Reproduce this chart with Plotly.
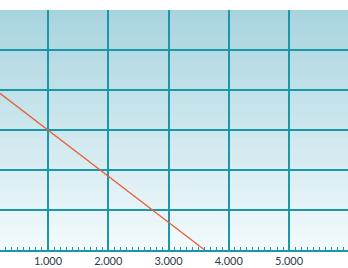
import plotly.graph_objects as go

# Data
line_x = [0, 3600]
line_y = [4.15, 0]
x_tickvals = [1000, 2000, 3000, 4000, 5000]

fig = go.Figure()

# gradient background via thin strips (paper coords)
n = 60
top = (168, 212, 223)
bot = (243, 250, 252)
shapes = []
for i in range(n):
    t = i / (n - 1)
    c = tuple(round(top[k] + (bot[k] - top[k]) * t) for k in range(3))
    shapes.append(dict(type="rect", xref="x domain", yref="y domain",
                       x0=0, x1=1, y0=1 - (i + 1) / n, y1=1 - i / n,
                       fillcolor="rgb(%d,%d,%d)" % c, line=dict(width=0),
                       layer="below"))

fig.add_trace(go.Scatter(x=line_x, y=line_y, mode="lines",
                         line=dict(color="#e8603a", width=1.3),
                         hoverinfo="skip", showlegend=False))

grid = "#1b98a8"
fig.update_layout(
    width=348, height=268,
    margin=dict(l=0, r=0, t=10, b=18),
    paper_bgcolor="white", plot_bgcolor="rgba(0,0,0,0)",
    separators=",.",
    shapes=shapes,
    showlegend=False,
    xaxis=dict(range=[204, 5978], tickvals=x_tickvals, tickformat=",d",
               showgrid=True, gridcolor=grid, gridwidth=1.6,
               showline=True, linecolor=grid, linewidth=1.5,
               ticks="", zeroline=False,
               minor=dict(dtick=100, ticks="inside", ticklen=3, tickcolor=grid,
                          tickwidth=1, showgrid=False),
               tickfont=dict(family="Lato, sans-serif", size=11, color="#2b3a4a")),
    yaxis=dict(range=[0, 6], dtick=1, showgrid=True, gridcolor=grid, gridwidth=1.6,
               showticklabels=False, zeroline=False, showline=False, ticks=""),
)

fig.write_html("out.html")
